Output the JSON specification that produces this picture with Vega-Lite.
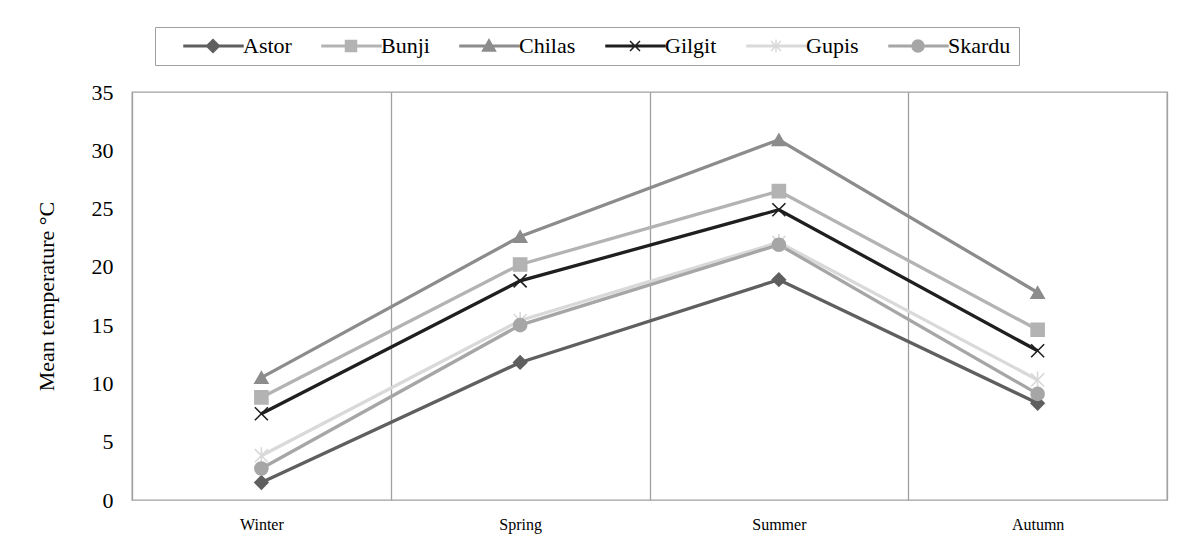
{
  "$schema": "https://vega.github.io/schema/vega-lite/v6.json",
  "width": 1035,
  "height": 408,
  "autosize": {"type": "none"},
  "padding": {"left": 132, "top": 92, "right": 12, "bottom": 48},
  "background": "white",
  "config": {
    "font": "Liberation Serif",
    "view": {"stroke": "#a0a0a0", "strokeWidth": 1.3}
  },
  "data": {
    "values": [
      {"station": "Astor", "season": "Winter", "temp": 1.5},
      {"station": "Astor", "season": "Spring", "temp": 11.8},
      {"station": "Astor", "season": "Summer", "temp": 18.9},
      {"station": "Astor", "season": "Autumn", "temp": 8.3},
      {"station": "Bunji", "season": "Winter", "temp": 8.8},
      {"station": "Bunji", "season": "Spring", "temp": 20.2},
      {"station": "Bunji", "season": "Summer", "temp": 26.5},
      {"station": "Bunji", "season": "Autumn", "temp": 14.6},
      {"station": "Chilas", "season": "Winter", "temp": 10.5},
      {"station": "Chilas", "season": "Spring", "temp": 22.6},
      {"station": "Chilas", "season": "Summer", "temp": 30.9},
      {"station": "Chilas", "season": "Autumn", "temp": 17.8},
      {"station": "Gilgit", "season": "Winter", "temp": 7.4},
      {"station": "Gilgit", "season": "Spring", "temp": 18.8},
      {"station": "Gilgit", "season": "Summer", "temp": 24.9},
      {"station": "Gilgit", "season": "Autumn", "temp": 12.8},
      {"station": "Gupis", "season": "Winter", "temp": 3.8},
      {"station": "Gupis", "season": "Spring", "temp": 15.4},
      {"station": "Gupis", "season": "Summer", "temp": 22.1},
      {"station": "Gupis", "season": "Autumn", "temp": 10.3},
      {"station": "Skardu", "season": "Winter", "temp": 2.7},
      {"station": "Skardu", "season": "Spring", "temp": 15.0},
      {"station": "Skardu", "season": "Summer", "temp": 21.9},
      {"station": "Skardu", "season": "Autumn", "temp": 9.1}
    ]
  },
  "encoding": {
    "x": {
      "field": "season",
      "type": "nominal",
      "sort": ["Winter", "Spring", "Summer", "Autumn"],
      "bandPosition": 0.5,
      "scale": {"type": "band", "paddingInner": 0, "paddingOuter": 0},
      "axis": {
        "title": null,
        "labelAngle": 0,
        "labelFont": "Liberation Serif",
        "labelFontSize": 16,
        "labelColor": "#000000",
        "labelPadding": 16,
        "ticks": false,
        "domain": false,
        "grid": true,
        "tickBand": "extent",
        "gridColor": "#a0a0a0",
        "gridWidth": 1.3,
        "gridOpacity": 1
      }
    },
    "y": {
      "field": "temp",
      "type": "quantitative",
      "scale": {"domain": [0, 35], "nice": false},
      "axis": {
        "title": "Mean temperature °C",
        "values": [0, 5, 10, 15, 20, 25, 30, 35],
        "grid": false,
        "ticks": false,
        "domain": false,
        "labelFont": "Liberation Serif",
        "labelFontSize": 22,
        "labelColor": "#000000",
        "labelPadding": 19,
        "titleFont": "Liberation Serif",
        "titleFontSize": 22,
        "titleFontWeight": "normal",
        "titleColor": "#000000",
        "titlePadding": 33
      }
    }
  },
  "layer": [
    {
      "mark": {"type": "line", "strokeWidth": 3.3},
      "encoding": {
        "color": {
          "field": "station",
          "type": "nominal",
          "scale": {
            "domain": ["Astor", "Bunji", "Chilas", "Gilgit", "Gupis", "Skardu"],
            "range": ["#5f5f5f", "#b3b3b3", "#8c8c8c", "#1f1f1f", "#d9d9d9", "#a6a6a6"]
          },
          "legend": null
        }
      }
    },
    {
      "mark": {"type": "point", "filled": true, "opacity": 1, "size": 170, "strokeWidth": 1.6},
      "encoding": {
        "color": {
          "field": "station",
          "type": "nominal",
          "scale": {
            "domain": ["Astor", "Bunji", "Chilas", "Gilgit", "Gupis", "Skardu"],
            "range": ["#5f5f5f", "#b3b3b3", "#8c8c8c", "#1f1f1f", "#d9d9d9", "#a6a6a6"]
          },
          "legend": null
        },
        "stroke": {
          "field": "station",
          "type": "nominal",
          "scale": {
            "domain": ["Astor", "Bunji", "Chilas", "Gilgit", "Gupis", "Skardu"],
            "range": ["#5f5f5f", "#b3b3b3", "#8c8c8c", "#1f1f1f", "#d9d9d9", "#a6a6a6"]
          },
          "legend": null
        },
        "shape": {
          "field": "station",
          "type": "nominal",
          "scale": {
            "domain": ["Astor", "Bunji", "Chilas", "Gilgit", "Gupis", "Skardu"],
            "range": ["diamond", "square", "triangle-up", "M-1,-1L1,1M-1,1L1,-1", "M-1,-1L1,1M-1,1L1,-1M0,-1.3L0,1.3", "circle"]
          },
          "legend": null
        }
      }
    },
    {
      "transform": [{"filter": "false"}],
      "mark": {"type": "point", "filled": true, "opacity": 1, "strokeWidth": 1.5},
      "encoding": {
        "color": {
          "field": "station",
          "type": "nominal",
          "scale": {
            "domain": ["Astor", "Bunji", "Chilas", "Gilgit", "Gupis", "Skardu"],
            "range": ["#5f5f5f", "#b3b3b3", "#8c8c8c", "#1f1f1f", "#d9d9d9", "#a6a6a6"]
          },
          "legend": {
            "title": null,
            "orient": "none",
            "legendX": 23,
            "legendY": -65,
            "direction": "horizontal",
            "columns": 6,
            "columnPadding": 9,
            "padding": 8,
            "strokeColor": "#a0a0a0",
            "fillColor": "white",
            "labelFont": "Liberation Serif",
            "labelFontSize": 22,
            "labelColor": "#000000",
            "labelOffset": 58,
            "labelLimit": 300,
            "symbolSize": 100,
            "symbolStrokeWidth": 1.5
          }
        },
        "stroke": {
          "field": "station",
          "type": "nominal",
          "scale": {
            "domain": ["Astor", "Bunji", "Chilas", "Gilgit", "Gupis", "Skardu"],
            "range": ["#5f5f5f", "#b3b3b3", "#8c8c8c", "#1f1f1f", "#d9d9d9", "#a6a6a6"]
          },
          "legend": null
        },
        "shape": {
          "field": "station",
          "type": "nominal",
          "scale": {
            "domain": ["Astor", "Bunji", "Chilas", "Gilgit", "Gupis", "Skardu"],
            "range": [
              "M-1.2,0M2,-0.15H13.8V0.15H2ZM7.8,-1.3L9.1,0L7.8,1.3L6.5,0Z",
              "M-1.2,0M2,-0.15H13.8V0.15H2ZM6.7,-1.1H8.9V1.1H6.7Z",
              "M-1.2,0M2,-0.15H13.8V0.15H2ZM7.8,-1.3L9.1,1L6.5,1Z",
              "M-1.2,0M2,-0.15H13.8V0.15H2ZM6.8,-1L8.8,1M6.8,1L8.8,-1",
              "M-1.2,0M2,-0.15H13.8V0.15H2ZM6.8,-1L8.8,1M6.8,1L8.8,-1M7.8,-1.3L7.8,1.3",
              "M-1.2,0M2,-0.15H13.8V0.15H2ZM9,0A1.2,1.2 0 1 1 6.6,0A1.2,1.2 0 1 1 9,0Z"
            ]
          },
          "legend": {
            "title": null,
            "orient": "none",
            "legendX": 23,
            "legendY": -65,
            "direction": "horizontal",
            "columns": 6,
            "columnPadding": 9,
            "padding": 8,
            "strokeColor": "#a0a0a0",
            "fillColor": "white",
            "labelFont": "Liberation Serif",
            "labelFontSize": 22,
            "labelColor": "#000000",
            "labelOffset": 58,
            "labelLimit": 300,
            "symbolSize": 100,
            "symbolStrokeWidth": 1.5
          }
        }
      }
    }
  ],
  "resolve": {
    "scale": {"color": "independent", "stroke": "independent", "shape": "independent"},
    "legend": {"color": "independent", "shape": "independent", "stroke": "independent"}
  }
}
